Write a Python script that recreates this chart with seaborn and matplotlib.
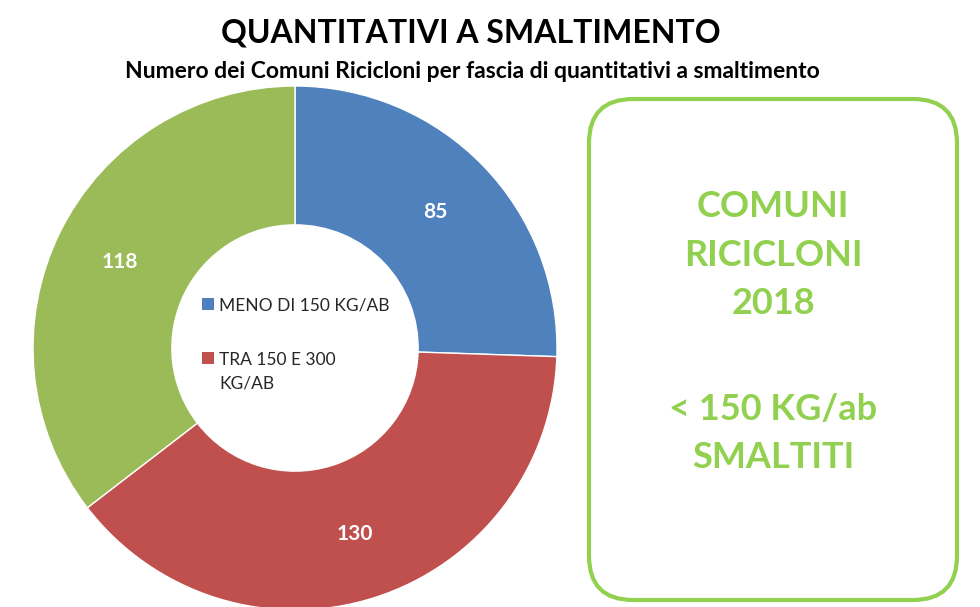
import matplotlib
matplotlib.use("Agg")
import matplotlib.pyplot as plt
import seaborn as sns
import numpy as np
from matplotlib.patches import FancyBboxPatch, Patch

# data
categories = ["MENO DI 150 KG/AB", "TRA 150 E 300\nKG/AB", "OLTRE 300 KG/AB"]
counts = [85, 130, 118]
colors = ["#4F81BD", "#C0504D", "#9BBB59"]
legend_shown = 2

title = "QUANTITATIVI A SMALTIMENTO"
subtitle = "Numero dei Comuni Ricicloni per fascia di quantitativi a smaltimento"
box_lines = ["COMUNI", "RICICLONI", "2018", "", "< 150 KG/ab", "SMALTITI"]
box_green = "#92D050"

sns.set_theme(style="white")
plt.rcParams["font.family"] = ["Lato", "DejaVu Sans"]

W, H = 980, 607
fig = plt.figure(figsize=(W / 100, H / 100), dpi=100)

# donut axes (pixel geometry -> figure fraction)
cx, cy, r = 295, 348, 262
ax = fig.add_axes([(cx - r) / W, (H - cy - r) / H, 2 * r / W, 2 * r / H])
wedges, _ = ax.pie(
    counts,
    colors=colors,
    startangle=90,
    counterclock=False,
    radius=1.0,
    wedgeprops=dict(width=0.53, edgecolor="white", linewidth=1),
)
ax.set_xlim(-1, 1)
ax.set_ylim(-1, 1)
ax.set_aspect("equal")
ax.axis("off")

# value labels in the ring
total = sum(counts)
start = 90.0
for val in counts:
    ang = start - 360.0 * val / total / 2
    start -= 360.0 * val / total
    rr = 0.745
    ax.text(rr * np.cos(np.radians(ang)), rr * np.sin(np.radians(ang)), str(val),
            ha="center", va="center", color="white", fontsize=15, fontweight="bold")

handles = [Patch(facecolor=c, edgecolor="none") for c in colors[:legend_shown]]
leg = fig.legend(handles, categories[:legend_shown], loc="upper left",
                 bbox_to_anchor=(193 / W, 1 - 289 / H), frameon=False,
                 fontsize=12.5, handlelength=0.7, handleheight=0.7, handletextpad=0.3,
                 labelspacing=2.2, borderpad=0)
for t in leg.get_texts():
    t.set_linespacing(1.6)
# marker next to the first line of a wrapped label
for col in leg._legend_handle_box.get_children():
    for row in col.get_children():
        row.align = "top"

# titles
fig.text(471 / W, 1 - 33 / H, title, ha="center", va="center",
         fontsize=23, fontweight="bold", color="black")
fig.text(472 / W, 1 - 71 / H, subtitle, ha="center", va="center",
         fontsize=16.5, fontweight="bold", color="black")

# rounded box on the right
bx0, by0, bx1, by1 = 589, 99, 957, 600
box = FancyBboxPatch((bx0 / W, 1 - by1 / H), (bx1 - bx0) / W, (by1 - by0) / H,
                     boxstyle="round,pad=0,rounding_size=0.045",
                     transform=fig.transFigure, facecolor="white",
                     edgecolor=box_green, linewidth=3, mutation_aspect=W / H)
fig.patches.append(box)

line_y = [207, 256, 304, 357, 410, 458]
for txt, yy in zip(box_lines, line_y):
    if txt:
        fig.text(773 / W, 1 - yy / H, txt, ha="center", va="center",
                 fontsize=26, fontweight="bold", color=box_green)

fig.savefig("out.png", dpi=100, facecolor="white")
